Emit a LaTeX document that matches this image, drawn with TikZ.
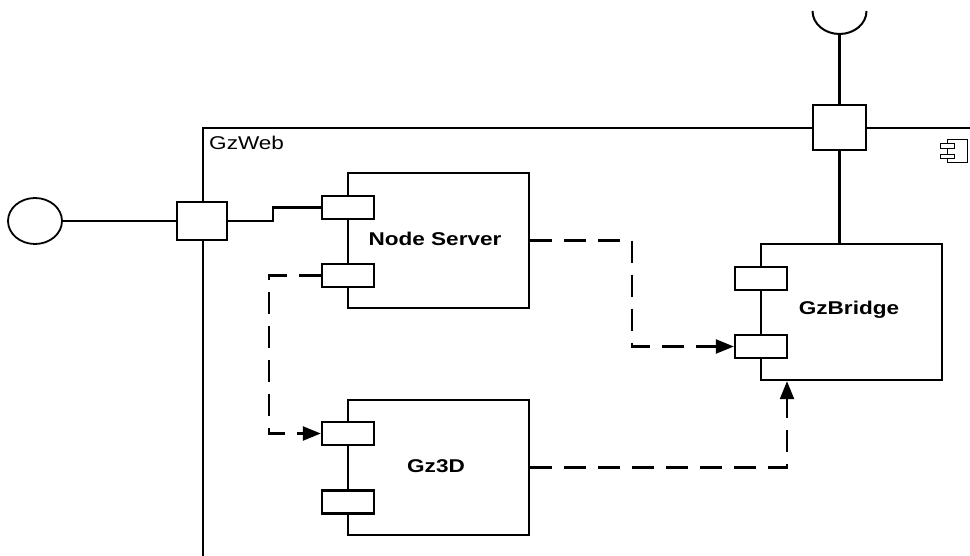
\documentclass[tikz,border=0pt]{standalone}
\usepackage{fontspec}
\setmainfont{Liberation Sans}
\usetikzlibrary{arrows.meta,shapes.geometric}
\tikzset{
  ln/.style={line width=2.4pt},
  comp/.style={draw,line width=2.4pt,fill=white,rectangle,inner sep=0pt,minimum width=181pt,minimum height=135pt},
  cport/.style={draw,line width=2.4pt,fill=white,rectangle,inner sep=0pt,minimum width=52pt,minimum height=23pt},
  bport/.style={draw,line width=2.4pt,fill=white,rectangle,inner sep=0pt},
  lbl/.style={font=\bfseries\fontsize{18.5}{20}\selectfont},
  dep/.style={line width=2.4pt,dash pattern=on 22pt off 12pt,-{Triangle[length=18pt,width=14pt]}},
}
\newcommand{\sx}[1]{\scalebox{1.22}[1]{#1}}
\begin{document}
\begin{tikzpicture}[x=1pt,y=-1pt]
\useasboundingbox (0,0) rectangle (970,556);
% frame
\draw[ln] (970,128) -- (203,128) -- (203,556);
\node[anchor=west,inner sep=0pt,font=\fontsize{18.5}{20}\selectfont] (gw) at (209,142.5) {\sx{GzWeb}};
% component icon
\draw[line width=0.9pt] (947,139) rectangle (967,162);
\draw[line width=0.9pt,fill=white] (940,143) rectangle (954,148);
\draw[line width=0.9pt,fill=white] (940,154) rectangle (954,158);
% components
\node[comp] (ns) at (438.5,240.5) {};
\node[lbl] at (435,239) {\sx{Node Server}};
\node[comp] (gz) at (438.5,467.5) {};
\node[lbl] at (436,466) {\sx{Gz3D}};
\node[comp,minimum height=136pt] (gb) at (851.5,312) {};
\node[lbl] at (849,310) {\sx{GzBridge}};
% ports on components
\node[cport] (ns1) at (348,207.5) {};
\node[cport] (ns2) at (348,275.5) {};
\node[cport] (gz1) at (348,433.5) {};
\node[cport] (gz2) at (348,502) {};
\node[cport] (gb1) at (761,278.5) {};
\node[cport] (gb2) at (761,346.5) {};
% boundary ports
\node[bport,minimum width=50pt,minimum height=38pt] (lp) at (202,221) {};
\node[bport,minimum width=53pt,minimum height=45pt] (tp) at (839.5,127.5) {};
% provided interface (lollipop)
\node[draw,ellipse,line width=1.8pt,inner sep=0pt,minimum width=54pt,minimum height=46pt] (lc) at (35,221) {};
\draw[ln] (lc.east) -- (lp.west);
\coordinate (k1) at (273,221);
\draw[ln] (lp.east) -- (k1) |- (ns1.west);
% required interface (socket)
\draw[line width=2pt] (812.5,11) arc[start angle=180,end angle=0,x radius=27,y radius=23];
\coordinate (hc) at (839.5,34);
\draw[ln] (hc) -- (tp.north);
\draw[ln] (tp.south) -- (tp.south |- gb.north);
% dependencies
\coordinate (d1) at (632,240.5);
\draw[dep] (ns.east) -- (d1) |- (gb2.west);
\coordinate (d2) at (269,275.5);
\draw[dep] (ns2.west) -- (d2) |- (gz1.west);
\coordinate (d3) at (787,467.5);
\draw[dep] (gz.east) -- (d3) -- (d3 |- gb.south);
\end{tikzpicture}
\end{document}
